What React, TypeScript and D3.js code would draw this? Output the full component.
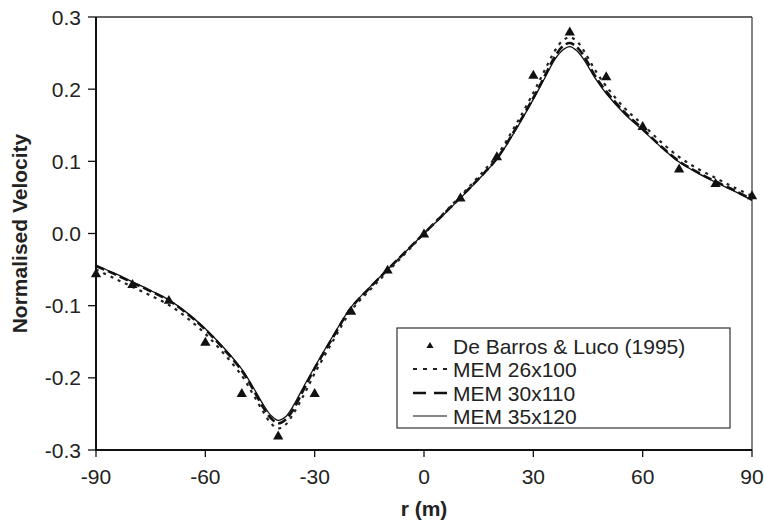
import React from "react";
import * as d3 from "d3";

const obsR = [-90, -80, -70, -60, -50, -40, -30, -20, -10, 0, 10, 20, 30, 40, 50, 60, 70, 80, 90];
const obsV = [-0.055, -0.07, -0.092, -0.15, -0.221, -0.28, -0.221, -0.107, -0.05, 0.0, 0.05, 0.107, 0.22, 0.28, 0.218, 0.149, 0.09, 0.07, 0.053];

const curveR = [-90, -85, -80, -75, -70, -65, -60, -55, -50, -47, -44, -42, -40, -38, -36, -33, -30, -25, -20, -15, -10, -5, 0, 5, 10, 15, 20, 25, 30, 33, 36, 38, 40, 42, 44, 47, 50, 55, 60, 65, 70, 75, 80, 85, 90];
const mem26 = [-0.05, -0.062, -0.074, -0.086, -0.099, -0.117, -0.139, -0.166, -0.197, -0.222, -0.248, -0.263, -0.27, -0.265, -0.251, -0.224, -0.194, -0.149, -0.107, -0.079, -0.053, -0.027, 0.0, 0.026, 0.052, 0.079, 0.108, 0.149, 0.195, 0.225, 0.254, 0.267, 0.272, 0.266, 0.252, 0.226, 0.204, 0.174, 0.151, 0.127, 0.106, 0.09, 0.077, 0.064, 0.052];
const mem30 = [-0.045, -0.056, -0.068, -0.08, -0.093, -0.111, -0.133, -0.16, -0.19, -0.215, -0.242, -0.256, -0.263, -0.258, -0.245, -0.216, -0.187, -0.144, -0.103, -0.076, -0.05, -0.025, 0.0, 0.025, 0.05, 0.076, 0.104, 0.144, 0.188, 0.217, 0.246, 0.259, 0.264, 0.258, 0.245, 0.218, 0.197, 0.168, 0.145, 0.121, 0.1, 0.085, 0.072, 0.06, 0.047];
const mem35 = [-0.044, -0.055, -0.067, -0.079, -0.092, -0.11, -0.132, -0.158, -0.188, -0.212, -0.238, -0.252, -0.259, -0.254, -0.24, -0.212, -0.185, -0.142, -0.102, -0.075, -0.05, -0.025, 0.0, 0.024, 0.049, 0.075, 0.103, 0.142, 0.186, 0.214, 0.242, 0.254, 0.259, 0.253, 0.24, 0.215, 0.194, 0.166, 0.143, 0.12, 0.099, 0.084, 0.071, 0.059, 0.046];

const xTicks = [-90, -60, -30, 0, 30, 60, 90];
const yTicks = [-0.3, -0.2, -0.1, 0.0, 0.1, 0.2, 0.3];
const legendLabels = ["De Barros & Luco (1995)", "MEM 26x100", "MEM 30x110", "MEM 35x120"];

const W = 764, H = 524;
const L = 96, R = 752, T = 17, B = 450;
const FONT = "Liberation Sans, Arial, Helvetica, sans-serif";
const FS = 21;

export default function App() {
  const x = d3.scaleLinear().domain([-90, 90]).range([L, R]);
  const y = d3.scaleLinear().domain([-0.3, 0.3]).range([B, T]);
  const line = d3.line<number>().x((_, i) => x(curveR[i])).y((d) => y(d)).curve(d3.curveCatmullRom.alpha(0.5));
  const tri = d3.symbol().type(d3.symbolTriangle).size(46)();
  const triSmall = d3.symbol().type(d3.symbolTriangle).size(22)();

  const lgX = 397, lgY = 328, lgW = 333, lgH = 100;
  const rowY = [346, 369, 393, 416];
  const sx0 = 413, sx1 = 447, tx = 453;

  return (
    <svg width={W} height={H} style={{ position: "absolute", left: 0, top: 0, background: "#fff" }}>
      <rect x={0} y={0} width={W} height={H} fill="#fff" />
      <line x1={L} y1={T} x2={R} y2={T} stroke="#333" strokeWidth={1.3} />
      <line x1={R} y1={T} x2={R} y2={B} stroke="#444" strokeWidth={1.3} />
      <path d={line(mem35) || ""} fill="none" stroke="#111" strokeWidth={1.3} />
      <path d={line(mem30) || ""} fill="none" stroke="#111" strokeWidth={2.6} strokeDasharray="9,4" />
      <path d={line(mem26) || ""} fill="none" stroke="#222" strokeWidth={2.2} strokeDasharray="3,5" />
      {obsR.map((r, i) => (
        <path key={i} d={tri || ""} transform={`translate(${x(r)},${y(obsV[i]) + 1})`} fill="#111" />
      ))}
      <line x1={L} y1={T} x2={L} y2={B} stroke="#111" strokeWidth={2} />
      <line x1={L - 1} y1={B} x2={R} y2={B} stroke="#111" strokeWidth={2} />
      {yTicks.map((t) => (
        <g key={t}>
          <line x1={L - 8} x2={L} y1={y(t)} y2={y(t)} stroke="#111" strokeWidth={1.3} />
          <text x={L - 15} y={y(t)} dy="0.36em" textAnchor="end" fontFamily={FONT} fontSize={FS} fill="#222">
            {t.toFixed(1)}
          </text>
        </g>
      ))}
      {xTicks.map((t) => (
        <g key={t}>
          <line x1={x(t)} x2={x(t)} y1={B} y2={B + 7} stroke="#111" strokeWidth={1.3} />
          <text x={x(t)} y={484} textAnchor="middle" fontFamily={FONT} fontSize={FS} fill="#222">
            {t}
          </text>
        </g>
      ))}
      <text x={424} y={516} textAnchor="middle" fontFamily={FONT} fontSize={FS} fontWeight="bold" fill="#222">
        r (m)
      </text>
      <text transform={`translate(27,${(T + B) / 2}) rotate(-90)`} textAnchor="middle" fontFamily={FONT} fontSize={FS} fontWeight="bold" fill="#222">
        Normalised Velocity
      </text>
      <rect x={lgX} y={lgY} width={lgW} height={lgH} fill="#fff" stroke="#333" strokeWidth={1.2} />
      <path d={triSmall || ""} transform={`translate(${(sx0 + sx1) / 2},${rowY[0]})`} fill="#111" />
      <line x1={sx0} x2={sx1} y1={rowY[1]} y2={rowY[1]} stroke="#222" strokeWidth={2} strokeDasharray="4,6" />
      <line x1={sx0} x2={sx1} y1={rowY[2]} y2={rowY[2]} stroke="#111" strokeWidth={2.6} strokeDasharray="13,8" />
      <line x1={sx0} x2={sx1} y1={rowY[3]} y2={rowY[3]} stroke="#111" strokeWidth={1.2} />
      {legendLabels.map((lab, i) => (
        <text key={lab} x={tx} y={rowY[i]} dy="0.36em" fontFamily={FONT} fontSize={FS} fill="#222">
          {lab}
        </text>
      ))}
    </svg>
  );
}
